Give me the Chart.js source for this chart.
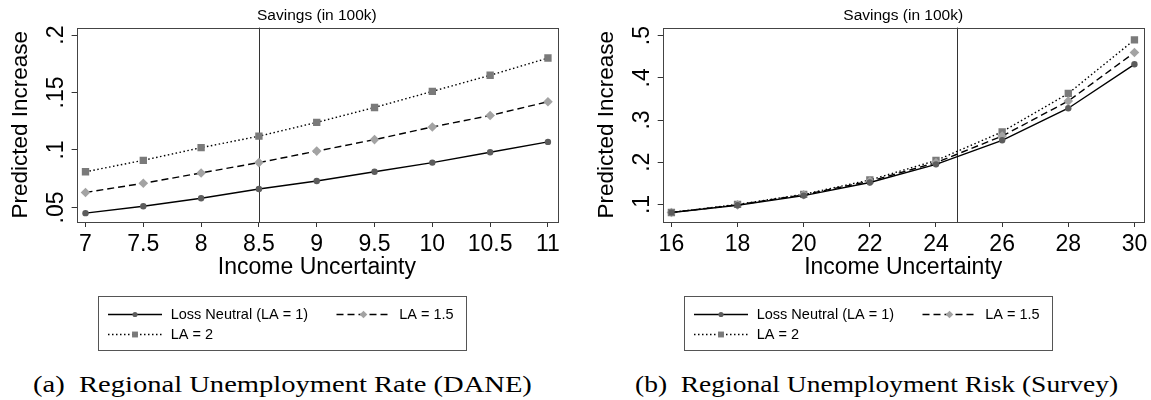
<!DOCTYPE html>
<html>
<head>
<meta charset="utf-8">
<title>Savings (in 100k)</title>
<script src="https://cdn.jsdelivr.net/npm/chart.js@4.4.1/dist/chart.umd.min.js"></script>
<style>
  body { margin: 0; background: #fff; width: 1151px; height: 400px; position: relative; overflow: hidden; }
  canvas { position: absolute; top: 0; }
  #chartA { left: 0; }
  #chartB { left: 575px; }
  .caption {
    position: absolute; top: 372px; line-height: 24px;
    font-family: 'Liberation Serif', 'Times New Roman', serif; font-size: 24px;
    white-space: pre; color: #000; transform-origin: left top;
  }
  #capA { left: 33px; transform: scaleX(1.19); }
  #capB { left: 635px; transform: scaleX(1.145); }
</style>
</head>
<body>
<canvas id="chartA" width="575" height="355"></canvas>
<canvas id="chartB" width="576" height="355"></canvas>
<div class="caption" id="capA">(a)  Regional Unemployment Rate (DANE)</div>
<div class="caption" id="capB">(b)  Regional Unemployment Risk (Survey)</div>
<script>
// panel (a): DANE unemployment rate
const rateX = [7, 7.5, 8, 8.5, 9, 9.5, 10, 10.5, 11];
const rateNeutral = [0.045, 0.051, 0.058, 0.066, 0.073, 0.081, 0.089, 0.098, 0.107];
const rateLA15 = [0.063, 0.071, 0.080, 0.089, 0.099, 0.109, 0.120, 0.130, 0.142];
const rateLA2 = [0.081, 0.091, 0.102, 0.112, 0.124, 0.137, 0.151, 0.165, 0.180];
const rateXTicks = [7, 7.5, 8, 8.5, 9, 9.5, 10, 10.5, 11];
const rateYTicks = [0.05, 0.1, 0.15, 0.2];
const rateCut = 8.5;

// panel (b): survey unemployment risk
const riskX = [16, 18, 20, 22, 24, 26, 28, 30];
const riskNeutral = [0.081, 0.098, 0.121, 0.152, 0.195, 0.252, 0.328, 0.432];
const riskLA15 = [0.081, 0.099, 0.123, 0.155, 0.199, 0.262, 0.345, 0.460];
const riskLA2 = [0.081, 0.100, 0.124, 0.158, 0.204, 0.272, 0.363, 0.490];
const riskXTicks = [16, 18, 20, 22, 24, 26, 28, 30];
const riskYTicks = [0.1, 0.2, 0.3, 0.4, 0.5];
const riskCut = 24.63;

const seriesNames = ['Loss Neutral (LA = 1)', 'LA = 1.5', 'LA = 2'];
const panelTitle = 'Savings (in 100k)';
const xTitle = 'Income Uncertainty';
const yTitle = 'Predicted Increase';

Chart.defaults.font.family = "'Liberation Sans', Arial, sans-serif";
Chart.defaults.color = '#000';

const lineStyles = [
  { dash: [], pointStyle: 'circle', radius: 3.2, marker: '#5c5c5c' },
  { dash: [7, 4], pointStyle: 'rectRot', radius: 4.8, marker: '#a3a3a3' },
  { dash: [1.5, 2.5], pointStyle: 'rect', radius: 5.2, marker: '#7a7a7a' }
];

// frame around the plot region and the vertical reference line
const framePlugin = {
  id: 'frame',
  beforeDatasetsDraw(chart, args, opts) {
    const { ctx, chartArea: a, scales: { x } } = chart;
    const px = Math.round(x.getPixelForValue(opts.cut)) + 0.5;
    ctx.save();
    ctx.strokeStyle = '#333';
    ctx.lineWidth = 1;
    ctx.beginPath();
    ctx.moveTo(px, a.top);
    ctx.lineTo(px, a.bottom);
    ctx.stroke();
    ctx.restore();
  },
  afterDraw(chart) {
    const { ctx, chartArea: a } = chart;
    ctx.save();
    ctx.strokeStyle = '#444';
    ctx.lineWidth = 1;
    ctx.strokeRect(Math.round(a.left) + 0.5, Math.round(a.top) + 0.5,
      Math.round(a.right - a.left), Math.round(a.bottom - a.top));
    ctx.restore();
  }
};

// boxed legend below the axis title, two columns
const boxLegend = {
  id: 'boxLegend',
  afterDraw(chart, args, opts) {
    const ctx = chart.ctx;
    const left = opts.left, top = opts.top;
    ctx.save();
    ctx.strokeStyle = '#555';
    ctx.lineWidth = 1;
    ctx.strokeRect(left + 0.5, top + 0.5, opts.width, opts.height);
    const cols = [10, 238.5];
    const rows = [18.5, 38.5];
    const place = [[0, 0], [1, 0], [0, 1]];
    chart.data.datasets.forEach((ds, i) => {
      const sx = left + cols[place[i][0]];
      const sy = top + rows[place[i][1]];
      ctx.strokeStyle = ds.borderColor;
      ctx.lineWidth = ds.borderWidth;
      ctx.setLineDash(ds.borderDash);
      ctx.beginPath();
      ctx.moveTo(sx, sy);
      ctx.lineTo(sx + 54, sy);
      ctx.stroke();
      ctx.setLineDash([]);
      ctx.fillStyle = ds.pointBackgroundColor;
      Chart.helpers.drawPoint(ctx, {
        pointStyle: ds.pointStyle, radius: ds.pointRadius * 0.8, rotation: 0, borderWidth: 0
      }, sx + 27, sy);
      ctx.fillStyle = '#000';
      ctx.font = "14.5px 'Liberation Sans', Arial, sans-serif";
      ctx.textBaseline = 'middle';
      ctx.textAlign = 'left';
      ctx.fillText(ds.label, sx + 62.7, sy + 0.5);
    });
    ctx.restore();
  }
};

const fmtTick = v => String(+v.toFixed(3)).replace(/^0\./, '.');

const makePanel = (id, xs, series, xTicks, yTicks, cut, cfg) => {
  const datasets = series.map((ys, i) => ({
    label: seriesNames[i],
    data: xs.map((x, k) => ({ x, y: ys[k] })),
    borderColor: '#000',
    borderWidth: 1.4,
    borderDash: lineStyles[i].dash,
    pointStyle: lineStyles[i].pointStyle,
    pointRadius: lineStyles[i].radius,
    pointBackgroundColor: lineStyles[i].marker,
    pointBorderWidth: 0,
    tension: 0,
    fill: false
  }));
  return new Chart(document.getElementById(id), {
    type: 'line',
    data: { datasets },
    plugins: [framePlugin, boxLegend],
    options: {
      responsive: false,
      animation: false,
      devicePixelRatio: 1,
      layout: { padding: { left: 0, right: cfg.padRight, top: 0, bottom: 73 } },
      plugins: {
        legend: { display: false },
        tooltip: { enabled: false },
        title: {
          display: true, text: panelTitle, fullSize: false,
          font: { size: 15.5, weight: 'normal' }, color: '#000',
          padding: { top: 6, bottom: 3 }
        },
        frame: { cut },
        boxLegend: { left: cfg.legendLeft, top: 296, width: 368, height: 54 }
      },
      scales: {
        x: {
          type: 'linear',
          min: cfg.xMin, max: cfg.xMax,
          afterBuildTicks: s => { s.ticks = xTicks.map(value => ({ value })); },
          afterFit: s => { s.height = 60; },
          grid: { drawOnChartArea: false, tickLength: 5, color: '#333' },
          border: { display: false },
          ticks: { font: { size: 23 }, padding: 3.4, maxRotation: 0, callback: v => String(v) },
          title: { display: true, text: xTitle, font: { size: 23 }, padding: { top: 0, bottom: 0.5 } }
        },
        y: {
          type: 'linear',
          min: cfg.yMin, max: cfg.yMax,
          afterBuildTicks: s => { s.ticks = yTicks.map(value => ({ value })); },
          afterFit: s => { s.width = cfg.yWidth; },
          grid: { drawOnChartArea: false, tickLength: 5, color: '#333' },
          border: { display: false },
          ticks: {
            font: { size: 23 }, minRotation: 90, maxRotation: 90,
            crossAlign: 'center', padding: cfg.yTickPad, callback: fmtTick
          },
          title: { display: true, text: yTitle, font: { size: 22.5 }, padding: { top: cfg.yTitlePad, bottom: 0 } }
        }
      }
    }
  });
};

makePanel('chartA', rateX, [rateNeutral, rateLA15, rateLA2], rateXTicks, rateYTicks, rateCut, {
  xMin: 6.923, xMax: 11.08, yMin: 0.0373, yMax: 0.2065,
  yWidth: 76.6, padRight: 17.8, yTickPad: -1.4, yTitlePad: 7.3, legendLeft: 98
});

makePanel('chartB', riskX, [riskNeutral, riskLA15, riskLA2], riskXTicks, riskYTicks, riskCut, {
  xMin: 15.737, xMax: 30.28, yMin: 0.0584, yMax: 0.519,
  yWidth: 87.7, padRight: 7.3, yTickPad: 5.3, yTitlePad: 18.2, legendLeft: 109
});
</script>
</body>
</html>
